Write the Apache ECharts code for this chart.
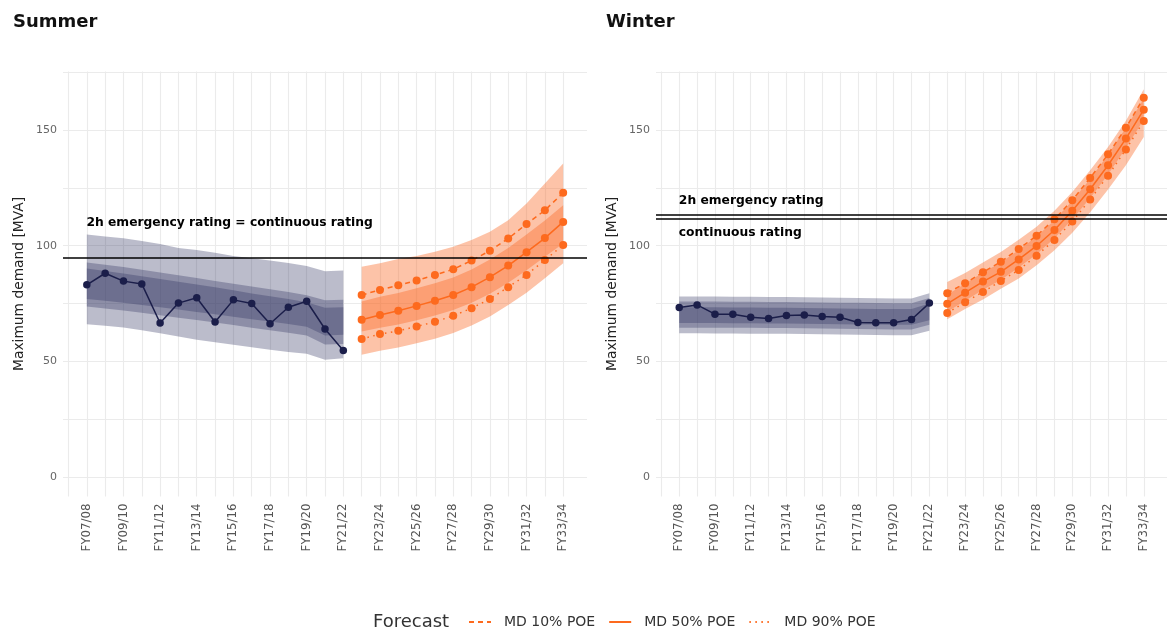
<!DOCTYPE html>
<html><head><meta charset="utf-8">
<script src="https://cdn.jsdelivr.net/npm/echarts@6/dist/echarts.min.js"></script>
<style>html,body{margin:0;padding:0;background:#fff}#c{width:1167px;height:630px}</style>
</head><body><div id="c"></div>
<script>
const categories = ["FY07/08","FY08/09","FY09/10","FY10/11","FY11/12","FY12/13","FY13/14","FY14/15","FY15/16","FY16/17","FY17/18","FY18/19","FY19/20","FY20/21","FY21/22","FY22/23","FY23/24","FY24/25","FY25/26","FY26/27","FY27/28","FY28/29","FY29/30","FY30/31","FY31/32","FY32/33","FY33/34"];
const tickLabels = ["FY07/08","FY09/10","FY11/12","FY13/14","FY15/16","FY17/18","FY19/20","FY21/22","FY23/24","FY25/26","FY27/28","FY29/30","FY31/32","FY33/34"];
const yTickLabels = [0, 50, 100, 150];
const yGridValues = [0, 25, 50, 75, 100, 125, 150, 175];

// Summer
const summerActual = [83.1, 88.1, 84.7, 83.5, 66.6, 75.2, 77.5, 67.0, 76.6, 75.0, 66.3, 73.4, 76.0, 64.0, 54.7];
const summerPoe10 = [78.7, 80.9, 82.9, 85.0, 87.3, 89.8, 93.6, 97.8, 103.1, 109.4, 115.3, 122.9];
const summerPoe50 = [68.0, 70.1, 71.9, 74.0, 76.2, 78.7, 82.1, 86.4, 91.4, 97.2, 103.3, 110.3];
const summerPoe90 = [59.7, 61.8, 63.2, 65.1, 67.1, 69.7, 73.0, 77.0, 82.1, 87.4, 93.8, 100.3];
const sumHistOuterHi = [104.9, 104.0, 103.2, 102.0, 100.8, 99.0, 98.2, 97.0, 95.6, 94.6, 93.6, 92.5, 91.2, 89.0, 89.3];
const sumHistMidHi   = [92.8, 91.8, 90.8, 89.6, 88.4, 87.2, 86.0, 84.8, 83.6, 82.4, 81.2, 80.0, 78.6, 76.4, 76.6];
const sumHistInnerHi = [90.2, 89.1, 88.0, 86.8, 85.6, 84.4, 83.2, 82.0, 80.8, 79.4, 78.2, 77.0, 75.6, 73.2, 73.4];
const sumHistInnerLo = [77.0, 76.2, 75.3, 74.4, 73.4, 72.4, 71.4, 70.4, 69.3, 68.2, 67.2, 66.2, 65.0, 61.2, 61.5];
const sumHistMidLo   = [73.7, 72.9, 72.0, 71.0, 69.9, 68.9, 67.9, 66.8, 65.7, 64.6, 63.5, 62.4, 61.2, 57.3, 57.5];
const sumHistOuterLo = [66.1, 65.4, 64.7, 63.5, 62.2, 60.8, 59.4, 58.3, 57.2, 56.1, 55.0, 54.1, 53.3, 50.7, 51.4];
const sumFcOuterHi = [90.9, 92.4, 94.3, 95.6, 97.4, 99.6, 102.5, 106.0, 111.0, 118.3, 126.9, 135.5];
const sumFcOuterLo = [52.9, 54.6, 56.0, 57.8, 59.8, 62.3, 65.5, 69.4, 74.4, 79.7, 85.9, 92.4];
const sumFcInnerHi = [75.9, 77.9, 79.6, 81.6, 83.8, 86.3, 89.7, 94.0, 99.0, 104.8, 110.9, 117.5];
const sumFcInnerLo = [62.9, 64.5, 66.0, 67.8, 69.8, 72.2, 75.3, 79.2, 84.0, 89.4, 95.2, 101.0];
const summerRatings = [95];
const summerRatingLabels = [["2h emergency rating = continuous rating", 109.8]];

// Winter
const winterActual = [73.3, 74.4, 70.4, 70.4, 69.1, 68.5, 69.8, 70.1, 69.4, 69.1, 66.8, 66.7, 66.7, 68.1, 75.2];
const winterPoe10 = [79.5, 83.8, 88.5, 93.1, 98.6, 104.3, 111.4, 119.7, 129.3, 139.5, 151.0, 164.0];
const winterPoe50 = [74.9, 79.7, 84.5, 88.7, 94.1, 99.9, 106.8, 115.1, 124.4, 134.8, 146.3, 158.8];
const winterPoe90 = [70.9, 75.6, 80.0, 84.8, 89.5, 95.7, 102.5, 110.5, 120.0, 130.3, 141.6, 153.9];
const winHistOuterHi = [78.0, 78.0, 78.0, 77.9, 77.9, 77.8, 77.8, 77.7, 77.6, 77.5, 77.4, 77.3, 77.2, 77.2, 79.5];
const winHistMidHi   = [75.9, 75.9, 75.9, 75.8, 75.8, 75.7, 75.7, 75.6, 75.5, 75.4, 75.3, 75.2, 75.1, 75.1, 77.4];
const winHistInnerHi = [73.4, 73.4, 73.4, 73.3, 73.3, 73.2, 73.2, 73.1, 73.0, 72.9, 72.8, 72.7, 72.6, 72.6, 75.0];
const winHistInnerLo = [66.6, 66.6, 66.6, 66.5, 66.5, 66.4, 66.4, 66.3, 66.2, 66.1, 66.0, 65.9, 65.8, 65.8, 67.8];
const winHistMidLo   = [64.6, 64.6, 64.6, 64.5, 64.5, 64.4, 64.4, 64.3, 64.2, 64.1, 64.0, 63.9, 63.8, 63.8, 65.8];
const winHistOuterLo = [62.2, 62.2, 62.1, 62.1, 62.0, 62.0, 61.9, 61.8, 61.7, 61.6, 61.5, 61.4, 61.3, 61.3, 63.2];
const winFcOuterHi = [84.3, 88.2, 92.8, 97.3, 102.6, 108.2, 115.1, 123.2, 132.6, 142.7, 154.0, 167.6];
const winFcOuterLo = [68.2, 72.6, 76.8, 81.4, 85.8, 91.6, 98.0, 105.6, 114.5, 124.3, 134.8, 147.0];
const winFcInnerHi = [78.8, 83.6, 88.4, 92.7, 98.1, 104.0, 111.0, 119.4, 128.8, 139.3, 151.0, 163.5];
const winFcInnerLo = [71.5, 76.2, 81.0, 85.2, 90.6, 96.3, 103.2, 111.4, 120.6, 130.8, 142.2, 154.6];
const winterRatings = [113.5, 111.7];
const winterRatingLabels = [["2h emergency rating", 119.6], ["continuous rating", 105.4]];

const FC_START = categories.indexOf("FY22/23");
const NAVY = '#1b1e4a';
const ORANGE = '#fd6a1e';
const NAVY_BAND = 'rgba(42,47,94,0.32)';
const ORANGE_BAND = 'rgba(251,106,37,0.40)';
const FONT = 'DejaVu Sans';

function pairs(arr, off) { return arr.map((v, i) => [off + i, v]); }

function band(g, off, lo, hi, color) {
  return {
    type: 'custom', xAxisIndex: g, yAxisIndex: g, silent: true, z: 1,
    data: [off],
    renderItem: function (params, api) {
      const pts = [];
      for (let i = 0; i < hi.length; i++) pts.push(api.coord([off + i, hi[i]]));
      for (let i = lo.length - 1; i >= 0; i--) pts.push(api.coord([off + i, lo[i]]));
      return { type: 'polygon', shape: { points: pts }, style: { fill: color } };
    }
  };
}

function fcLine(g, name, arr, type) {
  return {
    type: 'line', name: name, xAxisIndex: g, yAxisIndex: g, z: 3,
    data: pairs(arr, FC_START), symbol: 'circle', symbolSize: 8,
    itemStyle: { color: ORANGE }, lineStyle: { color: ORANGE, width: 1.5, type: type }
  };
}

function histLine(g, arr, ratings) {
  return {
    type: 'line', xAxisIndex: g, yAxisIndex: g, z: 3,
    data: pairs(arr, 0), symbol: 'circle', symbolSize: 7.5,
    itemStyle: { color: NAVY }, lineStyle: { color: NAVY, width: 1.5 },
    markLine: {
      silent: true, symbol: ['none', 'none'], label: { show: false },
      lineStyle: { color: '#000', width: 1.6, type: 'solid' },
      data: ratings.map(v => ({ yAxis: v }))
    }
  };
}

function annot(g, labels) {
  return {
    type: 'scatter', xAxisIndex: g, yAxisIndex: g, z: 5, silent: true,
    symbolSize: 1, itemStyle: { color: '#ffffff', opacity: 1 },
    data: labels.map(l => ({ value: [-0.05, l[1]], name: l[0] })),
    label: { show: true, position: 'right', distance: 0, formatter: p => p.name, opacity: 1,
      fontFamily: FONT, fontWeight: 'bold', fontSize: 12.3, color: '#000' }
  };
}

const splitStyle = { show: true, lineStyle: { color: '#ebebeb', width: 1.1 } };

function xAxis(g) {
  return {
    type: 'value', gridIndex: g, min: -1.3, max: 27.3,
    axisLine: { show: false },
    axisTick: { show: false, customValues: [-1].concat(categories.map((c, i) => i)) },
    splitLine: splitStyle,
    axisLabel: {
      customValues: tickLabels.map(t => categories.indexOf(t)),
      formatter: v => categories[Math.round(v)] || '',
      rotate: 90, margin: 7, fontFamily: FONT, fontSize: 11.8, color: '#555'
    }
  };
}
function yAxis(g) {
  return {
    type: 'value', gridIndex: g, min: -8.35, max: 175.35,
    name: 'Maximum demand [MVA]', nameLocation: 'middle', nameGap: 37, nameRotate: 90,
    nameTextStyle: { fontFamily: FONT, fontSize: 13.8, color: '#222' },
    axisLine: { show: false },
    axisTick: { show: false, customValues: yGridValues },
    splitLine: splitStyle,
    axisLabel: { customValues: yTickLabels, margin: 6, fontFamily: FONT, fontSize: 11, color: '#666' }
  };
}

const series = [
  band(0, 0, sumHistOuterLo, sumHistOuterHi, NAVY_BAND),
  band(0, 0, sumHistMidLo, sumHistMidHi, NAVY_BAND),
  band(0, 0, sumHistInnerLo, sumHistInnerHi, NAVY_BAND),
  band(0, FC_START, sumFcOuterLo, sumFcOuterHi, ORANGE_BAND),
  band(0, FC_START, sumFcInnerLo, sumFcInnerHi, ORANGE_BAND),
  histLine(0, summerActual, summerRatings),
  fcLine(0, 'MD 10% POE', summerPoe10, [5, 4]),
  fcLine(0, 'MD 50% POE', summerPoe50, 'solid'),
  fcLine(0, 'MD 90% POE', summerPoe90, [1.5, 4.5]),
  annot(0, summerRatingLabels),
  band(1, 0, winHistOuterLo, winHistOuterHi, NAVY_BAND),
  band(1, 0, winHistMidLo, winHistMidHi, NAVY_BAND),
  band(1, 0, winHistInnerLo, winHistInnerHi, NAVY_BAND),
  band(1, FC_START, winFcOuterLo, winFcOuterHi, ORANGE_BAND),
  band(1, FC_START, winFcInnerLo, winFcInnerHi, ORANGE_BAND),
  histLine(1, winterActual, winterRatings),
  fcLine(1, 'MD 10% POE', winterPoe10, [5, 4]),
  fcLine(1, 'MD 50% POE', winterPoe50, 'solid'),
  fcLine(1, 'MD 90% POE', winterPoe90, [1.5, 4.5]),
  annot(1, winterRatingLabels)
];

const chart = echarts.init(document.getElementById('c'), null, { renderer: 'canvas' });
chart.setOption({
  animation: false,
  backgroundColor: '#fff',
  title: [
    { text: 'Summer', left: 8, top: 8, textStyle: { fontFamily: FONT, fontWeight: 'bold', fontSize: 18, color: '#111' } },
    { text: 'Winter', left: 601, top: 8, textStyle: { fontFamily: FONT, fontWeight: 'bold', fontSize: 18, color: '#111' } },
    { text: 'Forecast', left: 368, top: 608, textStyle: { fontFamily: FONT, fontWeight: 'normal', fontSize: 18, color: '#333' } }
  ],
  legend: {
    left: 463, top: 610, itemWidth: 22, itemHeight: 12, itemGap: 13,
    data: ['MD 10% POE', 'MD 50% POE', 'MD 90% POE'],
    itemStyle: { opacity: 0 },
    textStyle: { fontFamily: FONT, fontSize: 14, color: '#333', padding: [0, 0, 0, 8] }
  },
  grid: [
    { left: 63, top: 71.4, width: 524, height: 425 },
    { left: 656, top: 71.4, width: 524, height: 425 }
  ],
  xAxis: [xAxis(0), xAxis(1)],
  yAxis: [yAxis(0), yAxis(1)],
  series: series
});
</script></body></html>
